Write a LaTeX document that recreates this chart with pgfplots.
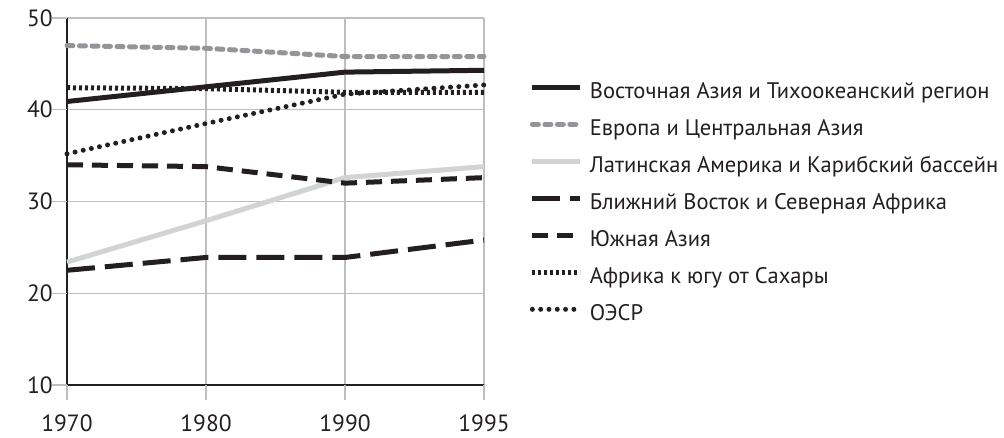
\documentclass[border=0pt]{standalone}
\usepackage{pgfplots}
\pgfplotsset{compat=1.18}
\usepackage{fontspec}
\setmainfont{PT Sans}
\definecolor{txt}{HTML}{231F20}
\definecolor{gridc}{HTML}{BCBEC0}
\definecolor{eur}{HTML}{939598}
\definecolor{lat}{HTML}{D1D3D4}
\begin{document}
\begin{tikzpicture}
\useasboundingbox (0,0) rectangle (1004pt,438pt);
\begin{axis}[
  at={(67pt,53pt)}, anchor=south west,
  scale only axis, width=417pt, height=367pt,
  xmin=0, xmax=3, ymin=10, ymax=50,
  xtick={0,1,2,3}, xticklabels={1970,1980,1990,1995},
  ytick={10,20,30,40,50},
  axis x line*=bottom, axis y line*=left,
  axis line style={txt, line width=1.2pt, -},
  grid=major, major grid style={gridc, line width=1.2pt},
  major tick length=0pt,
  clip=false,
  /pgf/number format/assume math mode=true,
  /pgf/number format/1000 sep={},
  xticklabel style={font=\fontsize{23.5}{26}\selectfont, text=txt, anchor=north, inner sep=0pt, yshift=-30pt},
  yticklabel style={font=\fontsize{23.5}{26}\selectfont, text=txt, anchor=east, inner sep=0pt, xshift=-14pt},
  legend cell align=left,
  legend style={at={(1.110,0.822)}, anchor=north west, draw=none, fill=none,
    inner sep=0pt, outer sep=0pt, row sep=18pt, column sep=7pt,
    nodes={inner sep=0pt, text height=15pt, text depth=4pt, text=txt},
    font=\fontsize{22.5}{25}\selectfont},
  legend image code/.code={\draw[#1] (0pt,5.5pt) -- (48pt,5.5pt);},
]
\pgfplotsinvokeforeach{0,1,2,3}{\draw[gridc, line width=1.2pt] (axis cs:#1,10) -- ++(0pt,-15pt);}
\pgfplotsinvokeforeach{10,20,30,40,50}{\draw[gridc, line width=1.2pt] (axis cs:0,#1) -- ++(-15pt,0pt);}
\addplot[txt, line width=5pt] coordinates {(0,40.9) (1,42.5) (2,44.1) (3,44.3)};
\addlegendentry{Восточная Азия и Тихоокеанский регион}
\addplot[eur, line width=5pt, line cap=round, dash pattern=on 6pt off 6.5pt] coordinates {(0,47.0) (1,46.7) (2,45.8) (3,45.8)};
\addlegendentry{Европа и Центральная Азия}
\addplot[lat, line width=5pt] coordinates {(0,23.4) (1,27.9) (2,32.6) (3,33.8)};
\addlegendentry{Латинская Америка и Карибский бассейн}
\addplot[txt, line width=5pt, dash pattern=on 28pt off 10pt] coordinates {(0,22.5) (1,23.9) (2,23.9) (3,25.8)};
\addlegendentry{Ближний Восток и Северная Африка}
\addplot[txt, line width=5pt, dash pattern=on 16pt off 9pt] coordinates {(0,34.0) (1,33.8) (2,32.0) (3,32.6)};
\addlegendentry{Южная Азия}
\addplot[txt, line width=5pt, dash pattern=on 3pt off 3pt] coordinates {(0,42.4) (1,42.3) (2,41.9) (3,41.9)};
\addlegendentry{Африка к югу от Сахары}
\addplot[txt, line width=5pt, line cap=round, dash pattern=on 0pt off 8.3pt] coordinates {(0,35.2) (1,38.5) (2,41.7) (3,42.7)};
\addlegendentry{ОЭСР}
\end{axis}
\end{tikzpicture}
\end{document}
